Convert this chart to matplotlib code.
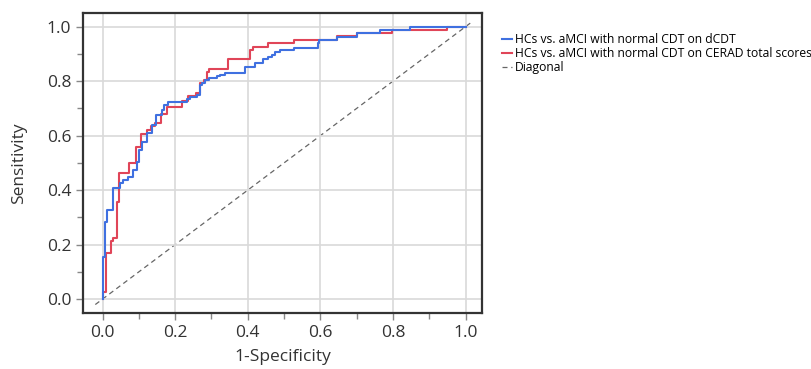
import numpy as np
import matplotlib
matplotlib.use('Agg')
import matplotlib.pyplot as plt
from matplotlib.ticker import MultipleLocator

plt.rcParams['font.family'] = ['Open Sans', 'DejaVu Sans']

# ROC 曲线数据（读图估计，step 'pre'：先竖后横）
fpr_dcdt = [0, 0.007, 0.013, 0.028, 0.048, 0.057, 0.071, 0.085, 0.094, 0.100,
            0.108, 0.122, 0.137, 0.147, 0.163, 0.170, 0.181, 0.232, 0.241, 0.259,
            0.269, 0.273, 0.282, 0.292, 0.315, 0.324, 0.337, 0.393, 0.420, 0.443,
            0.457, 0.466, 0.475, 0.489, 0.526, 0.592, 0.595, 0.645, 0.700, 0.764,
            0.847, 1.0]
tpr_dcdt = [0, 0.155, 0.284, 0.327, 0.409, 0.425, 0.437, 0.449, 0.474, 0.504,
            0.547, 0.578, 0.608, 0.639, 0.676, 0.694, 0.712, 0.725, 0.733, 0.741,
            0.749, 0.786, 0.792, 0.804, 0.810, 0.819, 0.823, 0.831, 0.851, 0.866,
            0.880, 0.890, 0.896, 0.905, 0.914, 0.923, 0.941, 0.951, 0.963, 0.975,
            0.987, 1.0]

fpr_cerad = [0, 0.009, 0.023, 0.030, 0.041, 0.046, 0.074, 0.091, 0.106, 0.122,
             0.133, 0.145, 0.161, 0.177, 0.218, 0.236, 0.258, 0.269, 0.278, 0.287,
             0.294, 0.345, 0.405, 0.414, 0.457, 0.526, 0.645, 0.700, 0.797, 0.948,
             1.0]
tpr_cerad = [0, 0.027, 0.168, 0.213, 0.223, 0.357, 0.462, 0.500, 0.557, 0.607,
             0.621, 0.635, 0.648, 0.679, 0.704, 0.728, 0.745, 0.757, 0.792, 0.804,
             0.835, 0.843, 0.880, 0.914, 0.927, 0.939, 0.951, 0.966, 0.976, 0.987,
             1.0]

diag = [-0.02, 1.02]

labels = ['HCs vs. aMCI with normal CDT on dCDT',
          'HCs vs. aMCI with normal CDT on CERAD total scores',
          'Diagonal']

fig = plt.figure(figsize=(8.11, 3.69), dpi=100)
ax = fig.add_axes([0.1023, 0.1518, 0.492, 0.813])

# 网格
ax.grid(True, which='major', color='#d9d9d9', lw=1.2, zorder=0)

l1, = ax.step(fpr_dcdt, tpr_dcdt, where='pre', color='#3f70e0', lw=1.5, zorder=3)
l2, = ax.step(fpr_cerad, tpr_cerad, where='pre', color='#e04558', lw=1.5, zorder=2)
l3, = ax.plot(diag, diag, color='#666666', lw=0.9, ls=(0, (4, 3)), zorder=1)

ax.set_xlim(-0.054, 1.045)
ax.set_ylim(-0.051, 1.05)
ax.xaxis.set_major_locator(MultipleLocator(0.2))
ax.xaxis.set_minor_locator(MultipleLocator(0.1))
ax.yaxis.set_major_locator(MultipleLocator(0.2))
ax.yaxis.set_minor_locator(MultipleLocator(0.1))
ax.xaxis.set_major_formatter(matplotlib.ticker.FormatStrFormatter('%.1f'))
ax.yaxis.set_major_formatter(matplotlib.ticker.FormatStrFormatter('%.1f'))
ax.tick_params(which='both', direction='out', color='#888888', labelsize=12.5,
               labelcolor='#333333')
ax.tick_params(which='major', length=5, width=1)
ax.tick_params(which='minor', length=4, width=1)

for s in ax.spines.values():
    s.set_color('#333333')
    s.set_linewidth(1.6)

ax.set_xlabel('1-Specificity', fontsize=12.5, color='#333333', labelpad=6)
ax.set_ylabel('Sensitivity', fontsize=12.5, color='#333333', labelpad=14)

fig.legend([l1, l2, l3], labels, loc='upper left',
           bbox_to_anchor=(0.619, 0.911), frameon=False, fontsize=8.7,
           handlelength=0.8, handletextpad=0.3, labelspacing=0.08,
           borderaxespad=0, borderpad=0)

fig.savefig('out.png', dpi=100)
